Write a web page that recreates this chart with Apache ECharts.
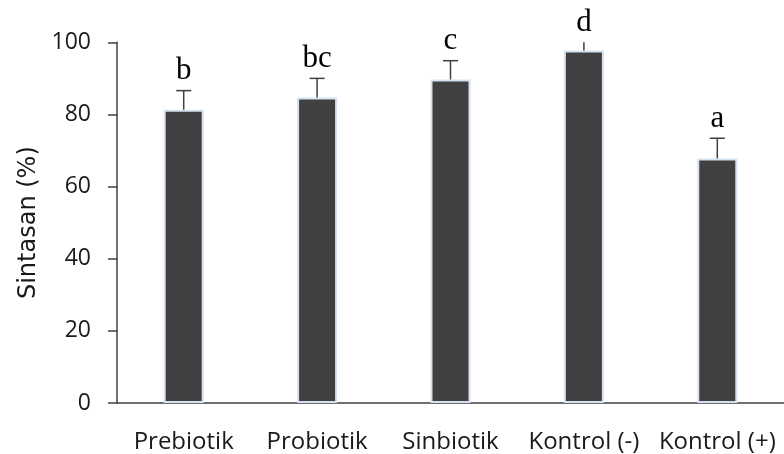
<!DOCTYPE html>
<html>
<head>
<meta charset="utf-8">
<script src="https://cdn.jsdelivr.net/npm/echarts@6/dist/echarts.min.js"></script>
<style>
  html, body { margin: 0; padding: 0; background: #fff; }
  #chart { width: 784px; height: 454px; }
</style>
</head>
<body>
<div id="chart"></div>
<script>
const categories = ['Prebiotik', 'Probiotik', 'Sinbiotik', 'Kontrol (-)', 'Kontrol (+)'];
const means = [81.3, 84.7, 89.7, 97.7, 67.8];
const sds = [5.3, 5.3, 5.2, 4.5, 5.6];
const letters = ['b', 'bc', 'c', 'd', 'a'];
const yMin = 0;
const yMax = 100;
const yStep = 20;

const chart = echarts.init(document.getElementById('chart'), null, { renderer: 'canvas' });

const errData = categories.map((c, i) => [i, means[i], sds[i], letters[i]]);

chart.setOption({
  animation: false,
  backgroundColor: '#ffffff',
  grid: { left: 117, right: 0, top: 42.3, bottom: 50.5, containLabel: false },
  xAxis: {
    type: 'category',
    data: categories,
    axisLine: { show: true, lineStyle: { color: '#404040', width: 1.5 } },
    axisTick: { show: false },
    axisLabel: {
      interval: 0,
      margin: 27,
      color: '#1a1a1a',
      fontFamily: 'Open Sans',
      fontSize: 24
    }
  },
  yAxis: {
    type: 'value',
    min: yMin,
    max: yMax,
    interval: yStep,
    name: 'Sintasan (%)',
    nameLocation: 'middle',
    nameGap: 75,
    nameRotate: 90,
    nameTextStyle: { color: '#1a1a1a', fontFamily: 'DejaVu Sans', fontSize: 24 },
    axisLine: { show: true, lineStyle: { color: '#404040', width: 1.5 } },
    axisTick: { show: true, length: 9, inside: false, lineStyle: { color: '#404040', width: 1.5 } },
    splitLine: { show: false },
    axisLabel: {
      margin: 26,
      color: '#1a1a1a',
      fontFamily: 'Open Sans',
      fontSize: 23
    }
  },
  series: [
    {
      type: 'bar',
      data: means,
      barWidth: 40,
      itemStyle: { color: '#404040', borderColor: '#d3e1f2', borderWidth: 2 },
      z: 2
    },
    {
      type: 'custom',
      data: errData,
      clip: false,
      z: 3,
      renderItem: function (params, api) {
        const i = api.value(0);
        const mean = api.value(1);
        const sd = api.value(2);
        const letter = letters[params.dataIndex];
        const hi = mean + sd;
        const shown = Math.min(hi, yMax);
        const pMean = api.coord([i, mean]);
        const pHi = api.coord([i, shown]);
        const x = pMean[0];
        const children = [
          { type: 'line', shape: { x1: x, y1: pMean[1], x2: x, y2: pHi[1] },
            style: { stroke: '#404040', lineWidth: 1.5 } }
        ];
        if (hi <= yMax) {
          children.push({ type: 'line', shape: { x1: x - 7.5, y1: pHi[1], x2: x + 7.5, y2: pHi[1] },
            style: { stroke: '#404040', lineWidth: 1.5 } });
        }
        children.push({
          type: 'text',
          style: {
            text: letter, x: x, y: pHi[1] - 19.5,
            align: 'center', verticalAlign: 'middle',
            font: '31px "Liberation Serif"', fill: '#000000'
          }
        });
        return { type: 'group', children: children };
      }
    }
  ]
});
</script>
</body>
</html>
